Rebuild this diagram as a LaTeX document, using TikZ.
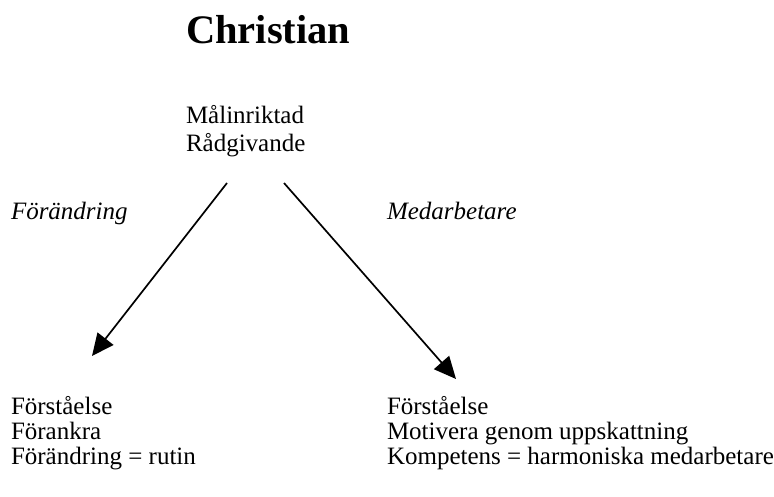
\documentclass[tikz,border=0pt]{standalone}
\usepackage{fontspec}
\setmainfont{Liberation Serif}
\usetikzlibrary{arrows.meta}
\begin{document}
\begin{tikzpicture}[x=1pt,y=-1pt,
  txt/.style={anchor=base west,inner sep=0pt,outer sep=0pt,font=\fontsize{25}{30}\selectfont},
  ttl/.style={anchor=base west,inner sep=0pt,outer sep=0pt,font=\fontsize{40.5}{48}\selectfont\bfseries},
  lbl/.style={txt,font=\fontsize{25}{30}\selectfont\itshape},
  link/.style={line width=1.7pt,-{Triangle[length=22pt,width=20pt]}}]
\useasboundingbox (0,0) rectangle (774,497);
% title
\node[ttl] (title) at (186,44) {Christian};
% top pair of qualities
\node[txt] (t1) at (186,124) {Målinriktad};
\node[txt] (t2) at (186,152) {Rådgivande};
% branch labels
\node[lbl] (lf) at (11,220) {Förändring};
\node[lbl] (lm) at (387,220) {Medarbetare};
% left column
\node[txt] (a1) at (11,414) {Förståelse};
\node[txt] (a2) at (11,439) {Förankra};
\node[txt] (a3) at (11,464) {Förändring = rutin};
% right column
\node[txt] (b1) at (387,414) {Förståelse};
\node[txt] (b2) at (387,439) {Motivera genom uppskattning};
\node[txt] (b3) at (387,464) {Kompetens = harmoniska medarbetare};
% arrows from the top pair down to each column
\coordinate (sl) at (227,183);
\coordinate (el) at (92,356);
\coordinate (sr) at (284,183);
\coordinate (er) at (456,379);
\draw[link] (sl) -- (el);
\draw[link] (sr) -- (er);
\end{tikzpicture}
\end{document}
